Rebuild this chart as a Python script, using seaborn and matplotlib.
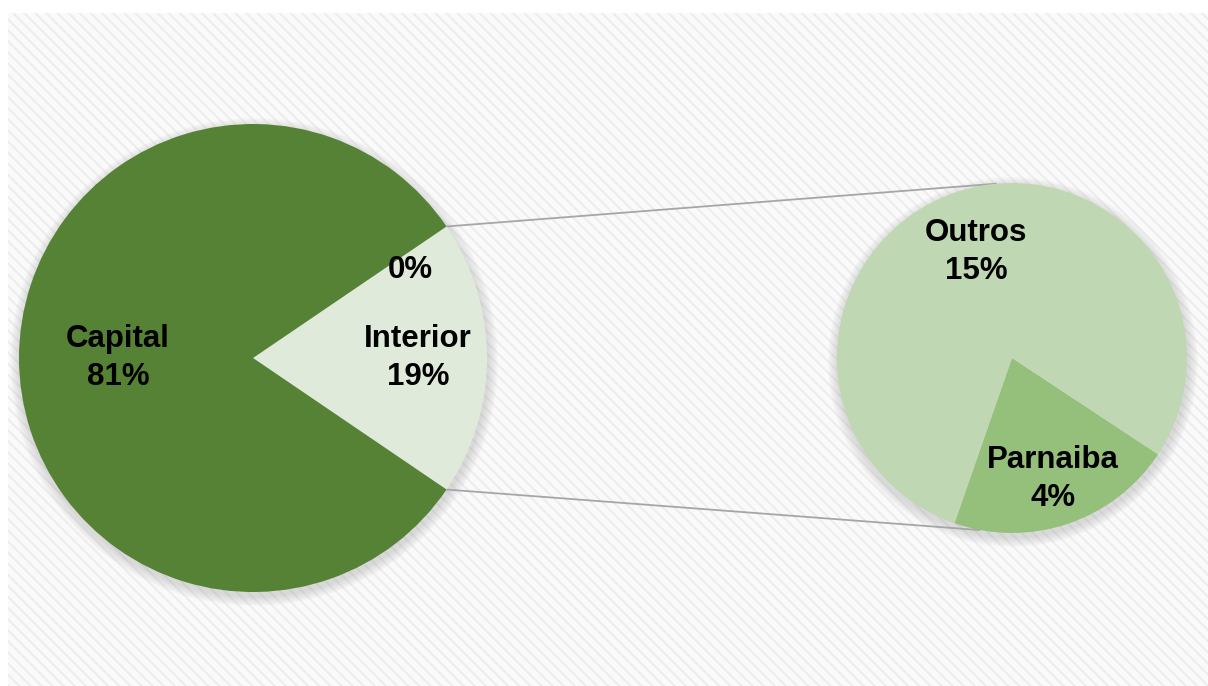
import numpy as np
import matplotlib
matplotlib.use("Agg")
import matplotlib.pyplot as plt
from matplotlib.patches import Rectangle, Circle
import seaborn as sns

# Primary pie: Capital vs Interior (plus an empty slice)
main_labels = ["Interior", "", "Capital"]
main_values = [19, 0, 81]
# Secondary pie: breakdown of Interior
sub_labels = ["Parnaiba", "Outros"]
sub_values = [4, 15]

main_colors = ["#E0EADB", "#E0EADB", "#558235"]
sub_colors = ["#95C07C", "#BFD8B3"]

sns.set_theme(style="white")
plt.rcParams["font.family"] = ["Liberation Sans", "DejaVu Sans"]
plt.rcParams["hatch.linewidth"] = 1.5

W, H = 1208, 686
fig = plt.figure(figsize=(W / 100, H / 100), dpi=100, facecolor="white")
ax = fig.add_axes([0, 0, 1, 1])

# striped chart-area background
ax.add_patch(Rectangle((8, 0), W - 8, H - 13, facecolor="#FAFAFA",
                       edgecolor="#EDEDED", lw=0, hatch="\\\\\\", zorder=0))

main_c, main_r = (253, 328), 234
sub_c, sub_r = (1012, 328), 175


def soft_shadow(c, r):
    for i in range(10):
        ax.add_patch(Circle((c[0] + 1, c[1] - 4), r + 10 - i, facecolor="#707070",
                            alpha=0.022, lw=0, zorder=1))


soft_shadow(main_c, main_r)
soft_shadow(sub_c, sub_r)

main_start = -main_values[0] / sum(main_values) * 180
main_wedges, _ = ax.pie(main_values, colors=main_colors, startangle=main_start,
                        center=main_c, radius=main_r,
                        wedgeprops=dict(linewidth=0, zorder=2))
sub_wedges, _ = ax.pie(sub_values, colors=sub_colors, startangle=-109.2,
                       center=sub_c, radius=sub_r,
                       wedgeprops=dict(linewidth=0, zorder=2))

# label placement: (fraction of radius, angular shift in degrees)
main_label_pos = [(0.705, 0), (0.77, -5), (0.577, 0)]
sub_label_pos = [(0.73, 0), (0.64, 0)]


def label_wedges(wedges, names, values, c, r, positions):
    for w, name, v, (d, shift) in zip(wedges, names, values, positions):
        ang = np.deg2rad((w.theta1 + w.theta2) / 2 + shift)
        x = c[0] + d * r * np.cos(ang)
        y = c[1] + d * r * np.sin(ang)
        txt = f"{name}\n{v}%" if name else f"{v}%"
        ax.text(x, y, txt, ha="center", va="center", fontsize=22.5,
                fontweight="bold", color="black", linespacing=1.32, zorder=5)


label_wedges(main_wedges, main_labels, main_values, main_c, main_r, main_label_pos)
label_wedges(sub_wedges, sub_labels, sub_values, sub_c, sub_r, sub_label_pos)

# connector lines from the Interior slice to the secondary pie
inter = main_wedges[0]
for theta_main, theta_sub in [(inter.theta2, 95.0), (inter.theta1, 259.6)]:
    a, b = np.deg2rad(theta_main), np.deg2rad(theta_sub)
    x0 = main_c[0] + main_r * np.cos(a)
    y0 = main_c[1] + main_r * np.sin(a)
    x1 = sub_c[0] + sub_r * np.cos(b)
    y1 = sub_c[1] + sub_r * np.sin(b)
    ax.plot([x0, x1], [y0, y1], color="#A6A6A6", lw=1.3, zorder=1.5,
            solid_capstyle="butt")

ax.set_xlim(0, W)
ax.set_ylim(0, H)
ax.set_aspect("auto")
ax.axis("off")
fig.savefig("out.png", dpi=100, facecolor="white")
